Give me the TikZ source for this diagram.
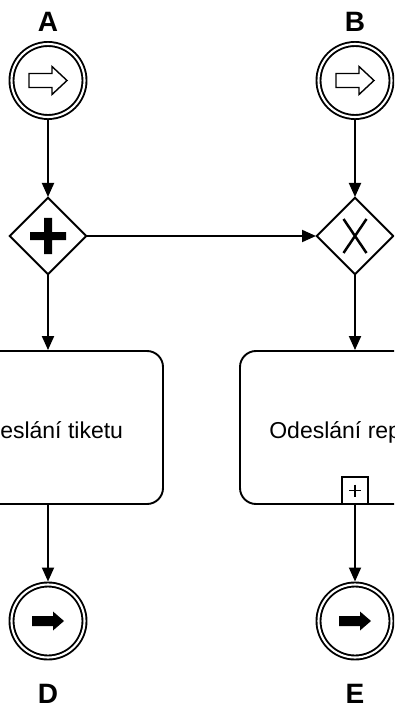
\documentclass[tikz,border=0pt]{standalone}
\usepackage{fontspec}
\setmainfont{Liberation Sans}
\usetikzlibrary{shapes.geometric,arrows.meta}
\begin{document}
\begin{tikzpicture}[x=1pt,y=-1pt,
  ln/.style={line width=1.9pt},
  flow/.style={ln,-{Triangle[length=14pt,width=12pt]}},
  evt/.style={circle,draw,ln,double,double distance=2.1pt,minimum size=73pt,inner sep=0pt,outer sep=3pt},
  gw/.style={diamond,draw,ln,minimum size=77pt,inner sep=0pt,outer sep=0.5pt},
  task/.style={rectangle,rounded corners=16pt,draw,ln,minimum width=230pt,minimum height=153pt,text height=21pt,text depth=0pt,font=\fontsize{23}{27}\selectfont},
  lbl/.style={font=\fontsize{28}{30}\selectfont\bfseries},
  marker/.style={rectangle,draw,line width=1.6pt,fill=white,minimum width=26pt,minimum height=27pt,inner sep=0pt}
]
\useasboundingbox (0,0) rectangle (394,703);
\clip (0,0) rectangle (394,703);
% labels
\node[lbl] (la) at (48,22) {A};
\node[lbl] (lb) at (355,22) {B};
\node[lbl] (ld) at (48,694) {D};
\node[lbl] (le) at (355,694) {E};
% events
\node[evt] (a) at (48,80.5) {};
\node[evt] (b) at (355,80.5) {};
\node[evt] (d) at (48,621) {};
\node[evt] (e) at (355,621) {};
% gateways
\node[gw] (g1) at (48,236) {};
\node[gw] (g2) at (355,236) {};
% tasks
\node[task] (t1) at (48,427.5) {\kern-3.4pt Odeslání tiketu};
\node[task] (t2) at (355,427.5) {Odeslání reportu};
\node[marker,anchor=south] (m) at (t2.south) {};
% icons
\draw[line width=1.4pt,line join=miter,shift={(a.center)}] (-19,-7) -- (4,-7) -- (4,-14) -- (19,0) -- (4,14) -- (4,7) -- (-19,7) -- cycle;
\draw[line width=1.4pt,line join=miter,shift={(b.center)}] (-19,-7) -- (4,-7) -- (4,-14) -- (19,0) -- (4,14) -- (4,7) -- (-19,7) -- cycle;
\fill[shift={(d.center)}] (-16,-5) -- (5,-5) -- (5,-9.5) -- (16,0) -- (5,9.5) -- (5,5) -- (-16,5) -- cycle;
\fill[shift={(e.center)}] (-16,-5) -- (5,-5) -- (5,-9.5) -- (16,0) -- (5,9.5) -- (5,5) -- (-16,5) -- cycle;
\fill[shift={(g1.center)}] (-18,-4) rectangle (18,4) (-4,-18) rectangle (4,18);
\draw[line width=2.5pt,shift={(g2.center)}] (-11.5,-17) -- (11.5,17) (11.5,-17) -- (-11.5,17);
\draw[line width=1.3pt,shift={(m.center)}] (-6,0) -- (6,0) (0,-6) -- (0,6);
% connectors
\draw[flow] (a) -- (g1);
\draw[flow] (b) -- (g2);
\draw[flow] (g1) -- (g2);
\draw[flow] (g1) -- (t1);
\draw[flow] (g2) -- (t2);
\draw[flow] (t1) -- (d);
\draw[flow] (m) -- (e);
\end{tikzpicture}
\end{document}
